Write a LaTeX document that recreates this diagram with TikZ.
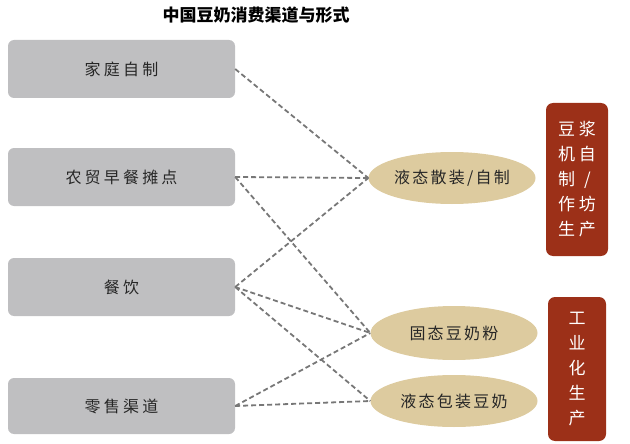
\documentclass[tikz,border=0pt]{standalone}
\usepackage{fontspec}
\setmainfont{Noto Sans CJK SC}
\newfontfamily\cjk[LetterSpace=20]{Noto Sans CJK SC}
\newfontfamily\cjke[LetterSpace=14]{Noto Sans CJK SC}
\usetikzlibrary{shapes.geometric}
\definecolor{boxgray}{HTML}{BFBFC1}
\definecolor{tanfill}{HTML}{DDCB9F}
\definecolor{brick}{HTML}{9C3018}
\definecolor{lgray}{HTML}{777777}
\begin{document}
\begin{tikzpicture}[x=1pt,y=-1pt,
  chan/.style={fill=boxgray, rounded corners=6pt, minimum width=227pt, minimum height=58pt, inner sep=0pt, font=\cjk\fontsize{16}{18}\selectfont, text=black!85},
  form/.style={ellipse, fill=tanfill, minimum width=167pt, minimum height=52pt, inner sep=0pt, font=\cjke\fontsize{16}{18}\selectfont, text=black!85},
  prod/.style={fill=brick, rounded corners=7pt, text=white, inner sep=0pt, align=center, font=\fontsize{17}{25}\selectfont},
  link/.style={draw=lgray, dash pattern=on 5pt off 3pt, line width=1.8pt}]
\useasboundingbox (0,0) rectangle (630,444);
\node[font=\bfseries\fontsize{17}{20}\selectfont] (title) at (256,15) {中国豆奶消费渠道与形式};
\node[chan] (b1) at (121.5,69) {家庭自制};
\node[chan] (b2) at (121.5,177) {农贸早餐摊点};
\node[chan] (b3) at (121.5,287) {餐饮};
\node[chan, minimum height=56pt] (b4) at (121.5,406) {零售渠道};
\node[form] (e1) at (452,178) {液态散装/自制};
\node[form, minimum height=54pt] (e2) at (454,333) {固态豆奶粉};
\node[form] (e3) at (454,401) {液态包装豆奶};
\node[prod, minimum width=62pt, minimum height=153pt] (r1) at (577,179.5)
  {\makebox[21pt]{豆}\makebox[21pt]{浆}\\\makebox[21pt]{机}\makebox[21pt]{自}\\\makebox[21pt]{制}\makebox[21pt]{/}\\\makebox[21pt]{作}\makebox[21pt]{坊}\\\makebox[21pt]{生}\makebox[21pt]{产}};
\node[prod, minimum width=58pt, minimum height=144pt] (r2) at (577,369)
  {工\\业\\化\\生\\产};
\draw[link] (b1.east) -- (e1.west);
\draw[link] (b2.east) -- (e1.west);
\draw[link] (b2.east) -- (e2.west);
\draw[link] (b3.east) -- (e1.west);
\draw[link] (b3.east) -- (e2.west);
\draw[link] (b3.east) -- (e3.west);
\draw[link] (b4.east) -- (e2.west);
\draw[link] (b4.east) -- (e3.west);
\end{tikzpicture}
\end{document}
